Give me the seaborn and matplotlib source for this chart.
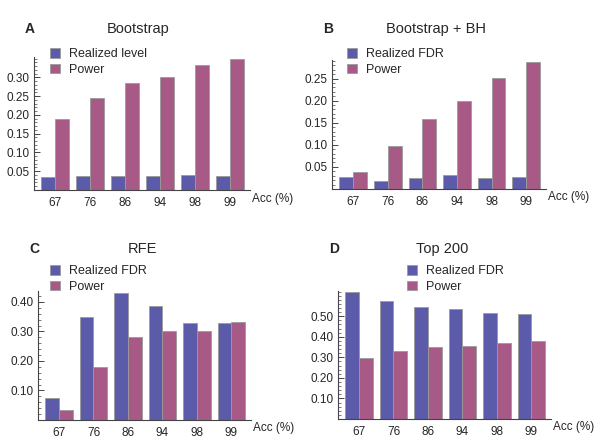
import pandas as pd
import matplotlib
matplotlib.use("Agg")
import matplotlib.pyplot as plt
import seaborn as sns
from matplotlib.ticker import FixedLocator, FormatStrFormatter, MultipleLocator

# ------------------------------
# Data
# ------------------------------
acc = ["67", "76", "86", "94", "98", "99"]

boot_level = [0.035, 0.036, 0.037, 0.037, 0.039, 0.038]
boot_power = [0.189, 0.245, 0.286, 0.302, 0.333, 0.348]

bh_fdr = [0.027, 0.018, 0.025, 0.031, 0.025, 0.027]
bh_power = [0.038, 0.098, 0.158, 0.199, 0.252, 0.288]

rfe_fdr = [0.075, 0.348, 0.431, 0.385, 0.328, 0.328]
rfe_power = [0.033, 0.180, 0.280, 0.300, 0.300, 0.331]

top_fdr = [0.616, 0.575, 0.546, 0.536, 0.516, 0.511]
top_power = [0.297, 0.330, 0.349, 0.357, 0.372, 0.380]

blue = "#5b5ba9"
purple = "#a75a85"

sns.set_style("white")
plt.rcParams["font.family"] = ["Liberation Sans", "DejaVu Sans"]
plt.rcParams["ytick.left"] = True
plt.rcParams["xtick.bottom"] = True

fig = plt.figure(figsize=(6, 4.46), dpi=100)

panels = [
    # letter, title, first label, first series, second series, axes rect, ymax, major ticks, minor step, legend pos
    ("A", "Bootstrap", "Realized level", boot_level, boot_power,
     [34 / 600, 1 - 190 / 446, 216 / 600, 133 / 446], 0.354,
     [0.05, 0.10, 0.15, 0.20, 0.25, 0.30], 0.01, (50, 62)),
    ("B", "Bootstrap + BH", "Realized FDR", bh_fdr, bh_power,
     [332 / 600, 1 - 189 / 446, 214 / 600, 129 / 446], 0.292,
     [0.05, 0.10, 0.15, 0.20, 0.25], 0.01, (347, 62)),
    ("C", "RFE", "Realized FDR", rfe_fdr, rfe_power,
     [38 / 600, 1 - 420 / 446, 213 / 600, 129 / 446], 0.437,
     [0.10, 0.20, 0.30, 0.40], 0.02, (50, 279)),
    ("D", "Top 200", "Realized FDR", top_fdr, top_power,
     [338 / 600, 1 - 419 / 446, 213 / 600, 128 / 446], 0.623,
     [0.10, 0.20, 0.30, 0.40, 0.50], 0.02, (407, 279)),
]

for letter, title, lab1, s1, s2, rect, ymax, majors, mstep, legpos in panels:
    ax = fig.add_axes(rect)
    df = pd.DataFrame({
        "acc": acc * 2,
        "value": s1 + s2,
        "metric": [lab1] * len(acc) + ["Power"] * len(acc),
    })
    sns.barplot(data=df, x="acc", y="value", hue="metric",
                palette=[blue, purple], saturation=1, width=0.8, gap=0,
                edgecolor="#9a9a9a", linewidth=0.6, ax=ax)
    ax.get_legend().remove()

    ax.set_xlim(-0.61, 5.57)
    ax.set_ylim(0, ymax)
    ax.set_xlabel("")
    ax.set_ylabel("")

    sns.despine(ax=ax)
    for sp in ["left", "bottom"]:
        ax.spines[sp].set_color("#444444")
        ax.spines[sp].set_linewidth(0.8)

    ax.yaxis.set_major_locator(FixedLocator(majors))
    ax.yaxis.set_major_formatter(FormatStrFormatter("%.2f"))
    ax.yaxis.set_minor_locator(MultipleLocator(mstep))
    ax.tick_params(axis="y", which="major", direction="in", length=4,
                   width=0.7, color="#444444", labelsize=8.5, pad=3, left=True)
    ax.tick_params(axis="y", which="minor", direction="in", length=2,
                   width=0.5, color="#444444", left=True)

    ax.set_xticks(range(len(acc)))
    ax.set_xticklabels(acc)
    ax.tick_params(axis="x", which="major", length=0, labelsize=8.5, pad=5)
    ax.xaxis.set_minor_locator(FixedLocator([i - 0.2 for i in range(len(acc))]))
    ax.tick_params(axis="x", which="minor", direction="in", length=2.5,
                   width=0.7, color="#333333", bottom=True)

    ax.text(1.01, -0.065, "Acc (%)", transform=ax.transAxes,
            ha="left", va="center", fontsize=8.5)

    # panel letter and title in figure pixels
    x0 = rect[0] * 600
    top_px = 29 if letter in "AB" else 249
    fig.text((x0 - 9) / 600, 1 - top_px / 446, letter, fontsize=10,
             fontweight="bold", ha="left", va="center")
    fig.text((x0 + 104) / 600, 1 - top_px / 446, title, fontsize=10.5,
             ha="center", va="center")

    handles, labels = ax.get_legend_handles_labels()
    ax.legend(handles, labels, loc="center left",
              bbox_to_anchor=(legpos[0] / 600, 1 - legpos[1] / 446),
              bbox_transform=fig.transFigure, frameon=False,
              fontsize=9, handlelength=0.8, handleheight=0.8,
              handletextpad=0.7, labelspacing=0.3, borderpad=0,
              borderaxespad=0)

fig.savefig("out.png", dpi=100)
